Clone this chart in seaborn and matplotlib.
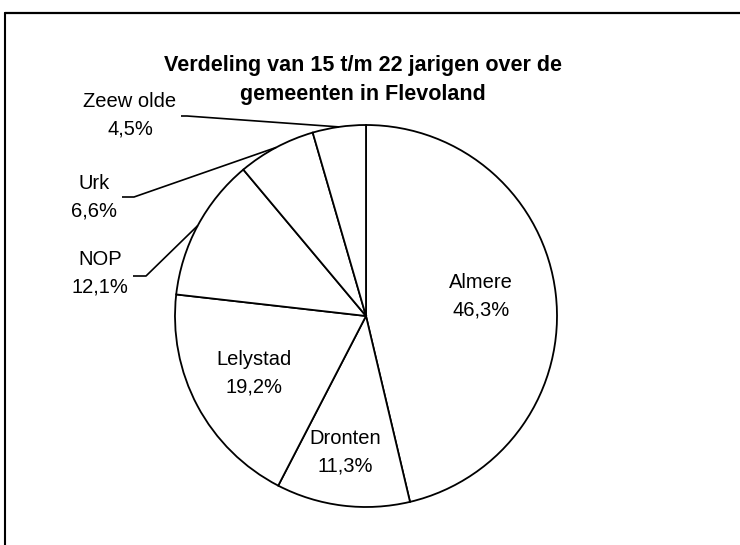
import numpy as np
import matplotlib
matplotlib.use("Agg")
import matplotlib.pyplot as plt
import seaborn as sns
from matplotlib.lines import Line2D

# ---- data ----
gemeenten = ["Almere", "Dronten", "Lelystad", "NOP", "Urk", "Zeew olde"]
aandeel = [46.3, 11.3, 19.2, 12.1, 6.6, 4.5]
pct_labels = ["46,3%", "11,3%", "19,2%", "12,1%", "6,6%", "4,5%"]
titel = "Verdeling van 15 t/m 22 jarigen over de\ngemeenten in Flevoland"

sns.set_theme(style="white")
plt.rcParams["font.family"] = ["Liberation Sans", "DejaVu Sans"]

W, H = 740, 545
fig = plt.figure(figsize=(W / 100, H / 100), dpi=100)
fig.patch.set_facecolor("white")

# pie geometry in pixels
cx, cy, R = 366, 316, 191
ax = fig.add_axes([(cx - R) / W, (H - cy - R) / H, 2 * R / W, 2 * R / H])

wedges, _ = ax.pie(aandeel, startangle=90, counterclock=False, radius=1,
                   colors=["white"] * len(aandeel),
                   wedgeprops=dict(edgecolor="black", linewidth=1.3))
ax.set_xlim(-1, 1)
ax.set_ylim(-1, 1)
ax.set_aspect("equal")
ax.axis("off")

def px2d(px, py):
    return (px - cx) / R, (cy - py) / R

# label block centres (pixels) - layout only
label_pos = [(481, 296), (345, 452), (254, 373), (100, 273), (94, 197), (130, 115)]
for name, pct, (px, py) in zip(gemeenten, pct_labels, label_pos):
    x, y = px2d(px, py)
    ax.text(x, y, f"{name}\n{pct}", ha="center", va="center", fontsize=14.5,
            linespacing=1.55, color="black", clip_on=False)

# leader lines for small slices (start/elbow in pixels, end on arc at mid angle)
leaders = {3: [(133, 276), (146, 276)], 4: [(122, 197), (134, 197)], 5: [(181, 116), (187, 116)]}
for i, pts in leaders.items():
    w = wedges[i]
    mid = np.deg2rad((w.theta1 + w.theta2) / 2)
    ex, ey = np.cos(mid), np.sin(mid)
    xs = [px2d(*p)[0] for p in pts] + [ex]
    ys = [px2d(*p)[1] for p in pts] + [ey]
    ax.plot(xs, ys, color="black", lw=1.2, clip_on=False, solid_capstyle="butt")

# title
fig.text(363 / W, 1 - 80 / H, titel, ha="center", va="center", fontsize=15.5,
         fontweight="bold", linespacing=1.5, color="black")

# chart frame (only left and top edges visible)
fig.add_artist(Line2D([5 / W, 5 / W], [0, 1 - 13 / H], transform=fig.transFigure,
                      color="black", lw=1.5))
fig.add_artist(Line2D([5 / W, 1], [1 - 13 / H, 1 - 13 / H], transform=fig.transFigure,
                      color="black", lw=1.6))

fig.savefig("out.png", dpi=100, facecolor="white")
